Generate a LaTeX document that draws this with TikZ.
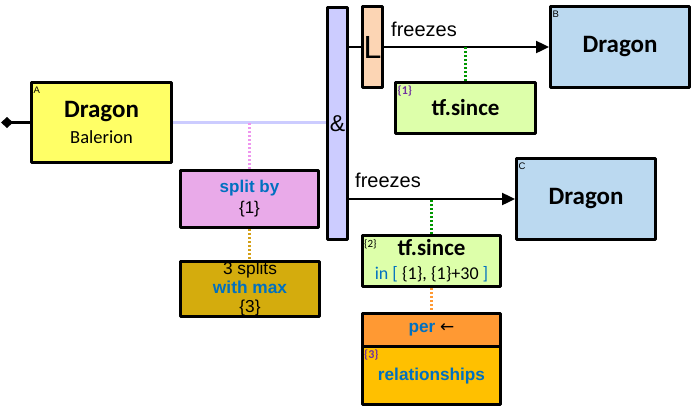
\documentclass[tikz,border=0pt]{standalone}
\usepackage{fontspec}
\setmainfont{Carlito}
\newfontfamily\arialf{Liberation Sans}
\newfontfamily\dejav{DejaVu Sans}
\usetikzlibrary{arrows.meta,positioning}
\newcommand\fsz[2]{\fontsize{#1}{#2}\selectfont}

\begin{document}
\begin{tikzpicture}[x=1pt,y=-1pt,line join=round,
  box/.style={draw,line width=2.9pt,inner sep=0pt,align=center},
  tag/.style={anchor=north west,inner sep=0pt},
  dotline/.style={line width=2.2pt,dash pattern=on 2pt off 2pt},
  conn/.style={line width=2.4pt}]
\definecolor{yelA}{RGB}{255,255,102}\definecolor{lav}{RGB}{204,204,255}
\definecolor{pinkB}{RGB}{233,170,233}\definecolor{goldB}{RGB}{212,172,13}
\definecolor{peachL}{RGB}{252,213,180}\definecolor{greenB}{RGB}{221,255,170}
\definecolor{blueB}{RGB}{187,217,240}\definecolor{perB}{RGB}{255,153,51}
\definecolor{relB}{RGB}{255,192,0}\definecolor{blueT}{RGB}{0,112,192}
\definecolor{purT}{RGB}{112,48,160}\definecolor{dotP}{RGB}{238,150,238}
\definecolor{dotG}{RGB}{0,150,0}\definecolor{dotY}{RGB}{212,160,23}
\useasboundingbox (0,0) rectangle (693,407);
% source entity and its split chain
\coordinate (root) at (1,122.5);
\node[box,fill=yelA,minimum width=140.1,minimum height=80.1,font=\fsz{18.5}{26}] (dragA) at (101.5,122.5)
  {{\bfseries\fsz{25}{26}Dragon}\\Balerion};
\node[box,fill=pinkB,minimum width=138.1,minimum height=57.1,font=\arialf\fsz{17}{21}] (split) at (249.5,199)
  {\textcolor{blueT}{\bfseries split by}\\\{1\}};
\node[box,fill=goldB,minimum width=139.1,minimum height=55.1,font=\arialf\fsz{17.3}{19}] (splits) at (250,289)
  {3 splits\\\textcolor{blueT}{\bfseries with max}\\\{3\}};
\node[box,fill=lav,minimum width=20.1,minimum height=232.1,font=\arialf\fsz{23}{26}] (amp) at (337.5,123.5) {\&};
\node[box,fill=peachL,minimum width=20.1,minimum height=80.5,font=\arialf\fsz{32}{34}] (Lbox) at (372.5,47) {L};
% targets
\node[box,fill=blueB,minimum width=139.1,minimum height=81.1,font=\bfseries\fsz{25}{26}] (dragB) at (620,47) {Dragon};
\node[box,fill=blueB,minimum width=139.1,minimum height=81.1,font=\bfseries\fsz{25}{26}] (dragC) at (586,199) {Dragon};
\node[box,fill=greenB,minimum width=140.1,minimum height=51.1,font=\bfseries\fsz{23}{24}] (tfA) at (465.5,108) {tf.since};
\node[box,fill=greenB,minimum width=138.1,minimum height=51.1,font=\fsz{18}{24}] (tfB) at (431.5,261)
  {{\bfseries\fsz{23}{24}tf.since}\\\textcolor{blueT}{in [} \{1\}, \{1\}+30 \textcolor{blueT}{]}};
\node[box,fill=perB,minimum width=138.1,minimum height=33.8,font=\arialf\fsz{17.2}{20}] (per) at (431.5,330.1)
  {\textcolor{blueT}{\bfseries per} {\dejav\fsz{17}{20}←}};
\node[box,fill=relB,minimum width=138.1,minimum height=57.8,font=\arialf\bfseries\fsz{17.2}{20}] (rel) at (431.5,375.6)
  {\textcolor{blueT}{relationships}};
% corner tags
\node[tag,font=\arialf\fsz{9.5}{10}] (tagA) at ([shift={(3.5,5.5)}]dragA.north west) {A};
\node[tag,font=\arialf\fsz{9.5}{10}] (tagB) at ([shift={(3.5,5.5)}]dragB.north west) {B};
\node[tag,font=\arialf\fsz{9.5}{10}] (tagC) at ([shift={(3.5,5.5)}]dragC.north west) {C};
\node[tag,purT,font=\bfseries\fsz{12}{12}] (tagOne) at ([shift={(3.5,5)}]tfA.north west) {\{1\}};
\node[tag,font=\fsz{11}{11}] (tagTwo) at ([shift={(3,5)}]tfB.north west) {\{2\}};
\node[tag,purT,font=\bfseries\fsz{12}{12}] (tagThree) at ([shift={(3,4.5)}]rel.north west) {\{3\}};
\node[font=\arialf\fsz{20}{22}] (frzA) at (424,29) {freezes};
\node[font=\arialf\fsz{20}{22}] (frzB) at (388,180) {freezes};
% connectors
\draw[conn,{Diamond[length=12pt,width=11pt]}-] (root) -- (dragA);
\draw[conn,lav] (dragA) -- (dragA -| amp.west);
\draw[dotline,dotP] (split) -- (split |- dragA);
\draw[dotline,dotY] (split.south) -- (split.south |- splits.north);
\draw[conn] (amp.east |- Lbox) -- (Lbox);
\draw[conn,-{Triangle[length=13pt,width=12pt]}] (Lbox) -- (dragB);
\draw[conn,-{Triangle[length=13pt,width=12pt]}] (amp.east |- dragC) -- (dragC);
\draw[dotline,dotG] (tfA) -- (tfA |- dragB);
\draw[dotline,dotG] (tfB) -- (tfB |- dragC);
\draw[dotline,perB] (tfB) -- (per);
\end{tikzpicture}
\end{document}
